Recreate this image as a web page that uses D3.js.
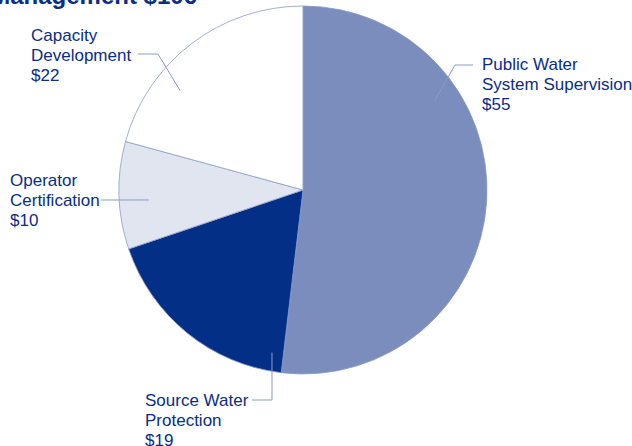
<!DOCTYPE html>
<html>
<head>
<meta charset="utf-8">
<script src="https://cdn.jsdelivr.net/npm/d3@7"></script>
<style>
  body { margin: 0; background: #fff; }
  text { font-family: "Liberation Sans", Arial, Helvetica, sans-serif; }
</style>
</head>
<body>
<div id="chart"></div>
<script>
// data
var categories = ["Public Water System Supervision", "Source Water Protection", "Operator Certification", "Capacity Development"];
var values = [55, 19, 10, 22];
var labelLines = [["Public Water", "System Supervision", "$55"], ["Source Water", "Protection", "$19"], ["Operator", "Certification", "$10"], ["Capacity", "Development", "$22"]];
var title = "Management $106";

// layout for callouts (angle in degrees from 12 o'clock, r = fraction of radius)
var callouts = [
  {angle: 55.7, r: 0.87, elbow: [455, 65], end: [473, 65], tx: 482, ty: 64},
  {angle: 190.8, r: 0.90, elbow: [272, 400], end: [252, 400], tx: 145, ty: 400},
  {angle: 266.3, r: 0.84, elbow: [101, 200], end: [101, 200], tx: 10, ty: 180},
  {angle: 309, r: 0.86, elbow: [158, 54], end: [138, 54], tx: 31, ty: 35}
];

var width = 632, height = 446;
var cx = 303, cy = 190, radius = 184;
var colors = ["#7b8dbd", "#042f86", "#e1e5f0", "#ffffff"];

var svg = d3.select("#chart")
  .append("svg")
    .attr("width", width)
    .attr("height", height);

// title, clipped at top like the source
svg.append("text")
  .attr("x", 197)
  .attr("y", 4)
  .attr("text-anchor", "end")
  .attr("font-size", 24)
  .attr("font-weight", "bold")
  .attr("fill", "#0a2d86")
  .text(title);

var data = categories.map(function(c, i) { return {name: c, value: values[i], i: i}; });

var pie = d3.pie().sort(null).value(function(d) { return d.value; });
var arc = d3.arc().innerRadius(0).outerRadius(radius);

var g = svg.append("g").attr("transform", "translate(" + cx + "," + cy + ")");

g.selectAll("path")
  .data(pie(data))
  .enter()
  .append("path")
    .attr("d", arc)
    .attr("fill", function(d) { return colors[d.data.i]; })
    .attr("stroke", "#8c9cc8")
    .attr("stroke-width", 0.8);

// leader lines
svg.selectAll(".leader")
  .data(callouts)
  .enter()
  .append("polyline")
    .attr("class", "leader")
    .attr("fill", "none")
    .attr("stroke", "#8c9cc8")
    .attr("stroke-width", 1)
    .attr("points", function(d) {
      var a = d.angle * Math.PI / 180;
      var sx = cx + Math.sin(a) * radius * d.r;
      var sy = cy - Math.cos(a) * radius * d.r;
      return [[sx, sy], d.elbow, d.end].map(function(p) { return p.join(","); }).join(" ");
    });

// labels
var labels = svg.selectAll(".lbl")
  .data(callouts)
  .enter()
  .append("text")
    .attr("class", "lbl")
    .attr("font-size", 17)
    .attr("fill", "#0a2d86");

labels.each(function(d, i) {
  var t = d3.select(this);
  labelLines[i].forEach(function(line, j) {
    t.append("tspan")
      .attr("x", d.tx)
      .attr("y", d.ty + j * 20)
      .attr("dy", "0.35em")
      .text(line);
  });
});
</script>
</body>
</html>
